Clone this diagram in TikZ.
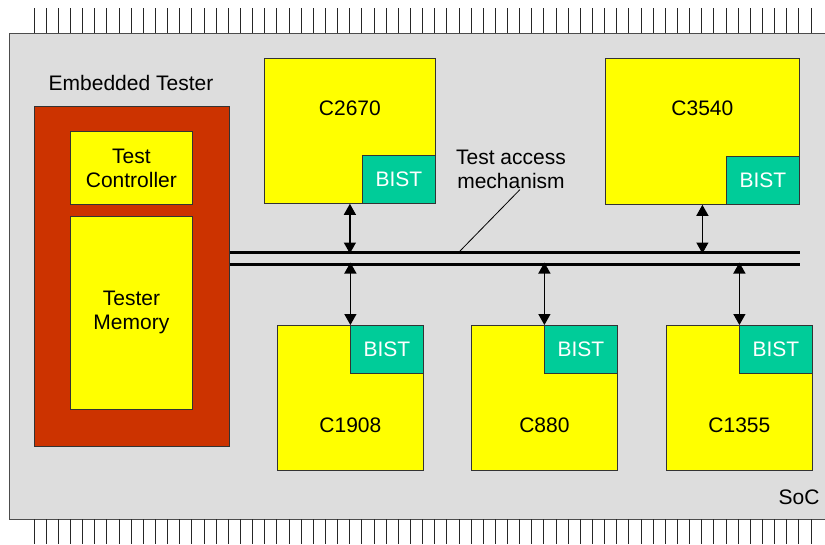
\documentclass[tikz,border=0pt]{standalone}
\usepackage{fontspec}
\setmainfont{Liberation Sans}
\usepackage{xcolor}
\usetikzlibrary{arrows.meta, positioning}

\definecolor{socgrey}{HTML}{DDDDDD}
\definecolor{testerred}{HTML}{CC3300}
\definecolor{coreyellow}{HTML}{FFFF00}
\definecolor{bistgreen}{HTML}{00CC99}

\begin{document}
\begin{tikzpicture}[
  x=1pt, y=-1pt,
  font=\fontsize{21}{24}\selectfont,
  block/.style={draw=black!80, line width=0.8pt, inner sep=0pt, anchor=north west},
  core/.style={block, fill=coreyellow},
  bist/.style={draw=black!80, line width=0.8pt, fill=bistgreen, text=white,
    minimum width=73pt, minimum height=48pt, inner sep=0pt},
  link/.style={{Triangle[length=11pt,width=12pt]}-{Triangle[length=11pt,width=12pt]}, line width=1.3pt},
  bus/.style={line width=3pt},
  pin/.style={line width=0.8pt, black!85}
]
\useasboundingbox (0,0) rectangle (825,544);

% chip outline with pins
\fill[socgrey] (9,33) rectangle (830,519);
\draw[line width=1pt, black!70] (830,33) -- (9,33) -- (9,519) -- (830,519);
\foreach \i in {0,...,64} {
  \draw[pin] ({34+12.14*\i},8) -- ++(0,25);
  \draw[pin] ({34+12.14*\i},519) -- ++(0,25);
}
\node (soc) at (799,497) {SoC};

% embedded tester
\node[block, fill=testerred, minimum width=195pt, minimum height=340pt] (tester) at (34,106) {};
\node (testerlbl) at (131,83) {Embedded Tester};
\node[core, minimum width=122pt, minimum height=73pt, align=center] (ctrl) at (70,131) {Test\\Controller};
\node[core, minimum width=122pt, minimum height=193pt, align=center] (mem) at (70,216) {Tester\\Memory};

% test access mechanism
\coordinate (busA) at (800,252);
\coordinate (busB) at (800,264);
\draw[bus] (tester.east |- busA) -- (busA);
\draw[bus] (tester.east |- busB) -- (busB);
\node[align=center, inner sep=1pt] (tam) at (511,169) {Test access\\mechanism};
\coordinate (tamend) at (460,251);
\draw[line width=0.8pt] ([xshift=9pt]tam.south) -- (tamend);

% cores above the bus
\node[core, minimum width=171pt, minimum height=145pt] (c2670) at (264,58) {};
\path (c2670.north) ++(0,50) node {C2670};
\node[bist, anchor=south east] (b2670) at (c2670.south east) {BIST};
\node[core, minimum width=194pt, minimum height=146pt] (c3540) at (605,58) {};
\path (c3540.north) ++(0,50) node {C3540};
\node[bist, anchor=south east] (b3540) at (c3540.south east) {BIST};

% cores below the bus
\node[core, minimum width=146pt, minimum height=145pt] (c1908) at (277,325) {};
\path (c1908.south) ++(0,-46) node {C1908};
\node[bist, anchor=north east] (b1908) at (c1908.north east) {BIST};
\node[core, minimum width=146pt, minimum height=145pt] (c880) at (471,325) {};
\path (c880.south) ++(0,-46) node {C880};
\node[bist, anchor=north east] (b880) at (c880.north east) {BIST};
\node[core, minimum width=146pt, minimum height=145pt] (c1355) at (666,325) {};
\path (c1355.south) ++(0,-46) node {C1355};
\node[bist, anchor=north east] (b1355) at (c1355.north east) {BIST};

% links to the bus
\draw[link] (c2670.south) -- ([yshift=-1.5pt]c2670.south |- busA);
\draw[link] (c3540.south) -- ([yshift=-1.5pt]c3540.south |- busA);
\draw[link] ([yshift=1.5pt]c1908.north |- busB) -- (c1908.north);
\draw[link] ([yshift=1.5pt]c880.north |- busB) -- (c880.north);
\draw[link] ([yshift=1.5pt]c1355.north |- busB) -- (c1355.north);
\end{tikzpicture}
\end{document}
